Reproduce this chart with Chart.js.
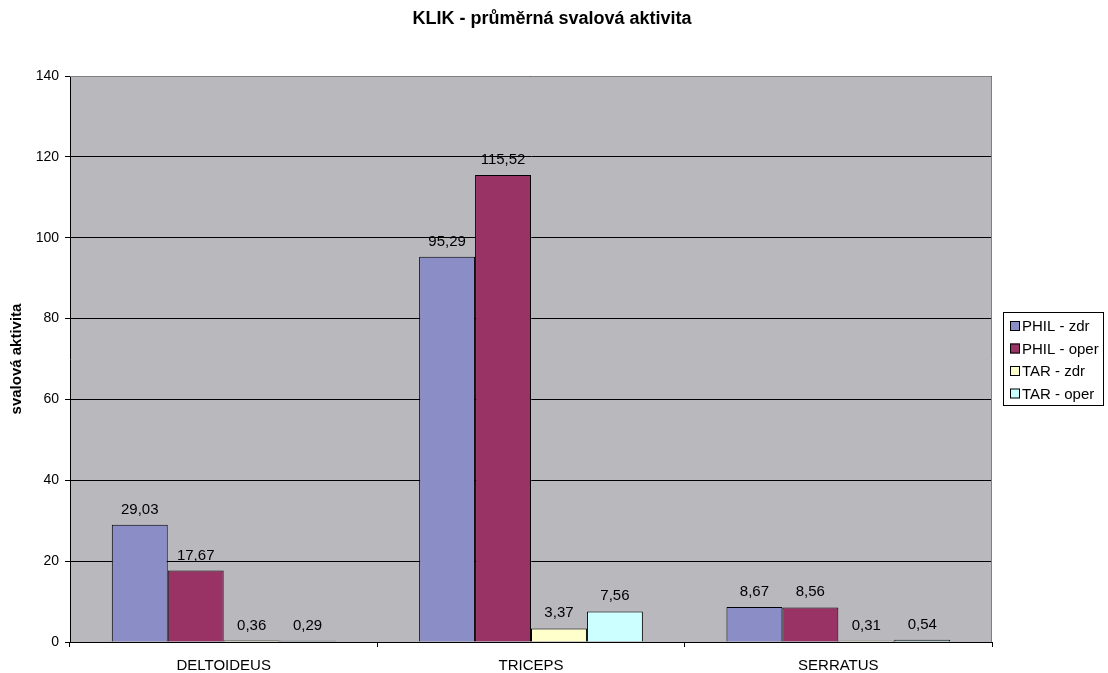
<!DOCTYPE html>
<html>
<head>
<meta charset="utf-8">
<script src="https://cdn.jsdelivr.net/npm/chart.js@4.4.1/dist/chart.umd.min.js"></script>
<style>
  html, body { margin: 0; padding: 0; background: #fff; }
  #wrap { width: 1108px; height: 673px; }
</style>
</head>
<body>
<div id="wrap"><canvas id="klikChart" width="1108" height="673"></canvas></div>
<script>
// --- DATA ---
const svaly = ['DELTOIDEUS', 'TRICEPS', 'SERRATUS'];
const philZdr = [29.03, 95.29, 8.67];
const philOper = [17.67, 115.52, 8.56];
const tarZdr = [0.36, 3.37, 0.31];
const tarOper = [0.29, 7.56, 0.54];
const skupiny = ['PHIL - zdr', 'PHIL - oper', 'TAR - zdr', 'TAR - oper'];
const barvy = ['#8B8DC6', '#993366', '#FFFFCC', '#CCFFFF'];

const FONT = 'Arial, "Liberation Sans", sans-serif';

// pozadí grafu + rámeček
const pozadiPlugin = {
    id: 'pozadi',
    beforeDraw(chart) {
        const { ctx, chartArea: a } = chart;
        ctx.save();
        ctx.fillStyle = '#B9B9BD';
        ctx.fillRect(a.left, a.top, a.right - a.left, a.bottom - a.top);
        ctx.restore();
    },
    afterDatasetsDraw(chart) {
        const { ctx, chartArea: a } = chart;
        ctx.save();
        ctx.strokeStyle = '#808080';
        ctx.lineWidth = 1;
        ctx.beginPath();
        ctx.moveTo(a.left, a.top + 0.5);
        ctx.lineTo(a.right - 0.5, a.top + 0.5);
        ctx.lineTo(a.right - 0.5, a.bottom);
        ctx.stroke();
        ctx.restore();
    }
};

// popisky hodnot nad sloupci
const popiskyPlugin = {
    id: 'popisky',
    afterDatasetsDraw(chart) {
        const { ctx } = chart;
        ctx.save();
        ctx.font = '15px ' + FONT;
        ctx.fillStyle = '#000';
        ctx.textAlign = 'center';
        ctx.textBaseline = 'alphabetic';
        chart.data.datasets.forEach((ds, i) => {
            chart.getDatasetMeta(i).data.forEach((bar, j) => {
                const txt = ds.data[j].toFixed(2).replace('.', ',');
                ctx.fillText(txt, bar.x, bar.y - 11);
            });
        });
        ctx.restore();
    }
};

// titulek, popis osy y a legenda
const textyPlugin = {
    id: 'texty',
    afterDraw(chart) {
        const { ctx } = chart;
        ctx.save();
        ctx.fillStyle = '#000';
        ctx.font = 'bold 18px ' + FONT;
        ctx.textAlign = 'center';
        ctx.textBaseline = 'middle';
        ctx.fillText('KLIK - průměrná svalová aktivita', 552, 19);

        ctx.translate(17, 359);
        ctx.rotate(-Math.PI / 2);
        ctx.font = 'bold 15px ' + FONT;
        ctx.fillText('svalová aktivita', 0, 0);
        ctx.restore();

        // legenda
        ctx.save();
        ctx.strokeStyle = '#000';
        ctx.lineWidth = 1;
        ctx.strokeRect(1003.5, 312.5, 100, 93);
        ctx.font = '15px ' + FONT;
        ctx.textBaseline = 'middle';
        ctx.textAlign = 'left';
        skupiny.forEach((s, i) => {
            const y = 326 + i * 22.5;
            ctx.fillStyle = barvy[i];
            ctx.fillRect(1010, y - 5, 10, 10);
            ctx.strokeRect(1010.5, y - 4.5, 9, 9);
            ctx.fillStyle = '#000';
            ctx.fillText(s, 1022, y + 1);
        });
        ctx.restore();
    }
};

new Chart(document.getElementById('klikChart').getContext('2d'), {
    type: 'bar',
    data: {
        labels: svaly,
        datasets: [philZdr, philOper, tarZdr, tarOper].map((d, i) => ({
            label: skupiny[i],
            data: d,
            backgroundColor: barvy[i],
            borderColor: '#000',
            borderWidth: 1,
            categoryPercentage: 0.728,
            barPercentage: 1
        }))
    },
    options: {
        responsive: false,
        animation: false,
        devicePixelRatio: 1,
        layout: { padding: { top: 76, right: 116, bottom: 0, left: 0 } },
        scales: {
            x: {
                grid: {
                    display: true,
                    drawOnChartArea: false,
                    offset: true,
                    color: '#000',
                    tickLength: 5
                },
                border: { color: '#000' },
                ticks: { color: '#000', font: { family: FONT, size: 15 }, padding: 10 },
                afterFit(scale) { scale.height = 31; }
            },
            y: {
                min: 0,
                max: 140,
                ticks: { stepSize: 20, color: '#000', font: { family: FONT, size: 14 }, padding: 6 },
                grid: { color: '#000', tickLength: 5 },
                border: { color: '#000' },
                afterFit(scale) { scale.width = 70; }
            }
        },
        plugins: {
            legend: { display: false },
            tooltip: { enabled: false }
        }
    },
    plugins: [pozadiPlugin, popiskyPlugin, textyPlugin]
});
</script>
</body>
</html>
